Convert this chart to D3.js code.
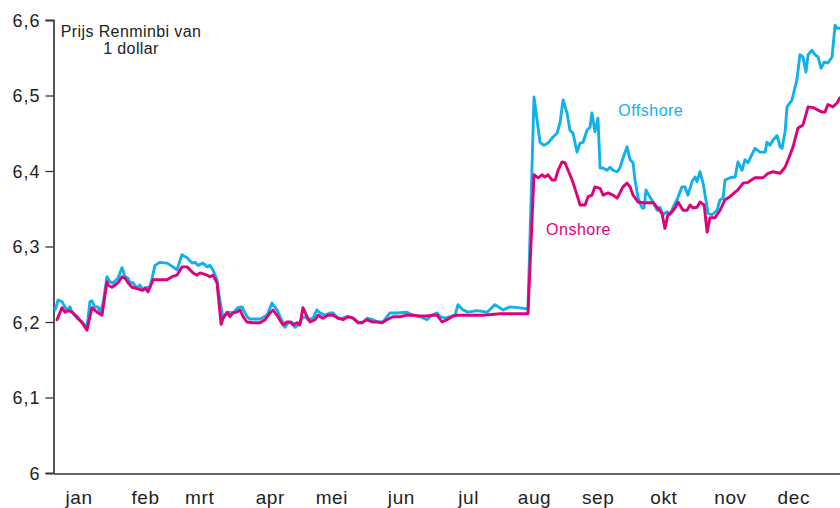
<!DOCTYPE html>
<html><head><meta charset="utf-8">
<script src="https://cdn.jsdelivr.net/npm/d3@7/dist/d3.min.js"></script>
<style>
html,body{margin:0;padding:0;background:#fff;}
svg{display:block;font-family:"Liberation Sans",Arial,sans-serif;}
</style></head>
<body>
<svg id="chart" width="840" height="508"></svg>
<script>
// Month labels (day-of-year where each label is centred)
const monthLabels = ["jan","feb","mrt","apr","mei","jun","jul","aug","sep","okt","nov","dec"];
const monthLabelDays = [11.4,42.3,67.4,100.2,128.8,161.1,192.3,222.9,252.5,283.0,313.9,343.3];
const yTicks = [6, 6.1, 6.2, 6.3, 6.4, 6.5, 6.6];
const yTickLabels = ["6","6,1","6,2","6,3","6,4","6,5","6,6"];

// Offshore rate: [day of year, CNH per USD]
const offshore = [[0.5,6.216],[1.9,6.229],[3.7,6.227],[5.1,6.220],[6.0,6.216],[7.4,6.220],[8.4,6.213],[10.7,6.205],[13.0,6.200],[14.4,6.196],[15.3,6.193],[16.7,6.227],[17.6,6.228],[19.0,6.220],[20.4,6.220],[21.4,6.213],[22.8,6.225],[24.6,6.260],[26.0,6.253],[27.4,6.252],[29.7,6.258],[31.6,6.272],[33.0,6.260],[34.4,6.258],[35.3,6.252],[36.7,6.252],[38.5,6.245],[39.9,6.249],[41.3,6.242],[43.2,6.246],[44.6,6.246],[46.9,6.275],[49.2,6.279],[52.5,6.278],[55.3,6.273],[57.1,6.269],[59.4,6.289],[61.8,6.285],[64.1,6.278],[65.5,6.279],[66.9,6.275],[69.2,6.278],[71.1,6.273],[72.4,6.275],[73.8,6.269],[75.7,6.256],[76.6,6.236],[78.5,6.205],[80.8,6.213],[83.1,6.212],[85.4,6.219],[87.3,6.220],[89.6,6.207],[91.0,6.204],[95.7,6.204],[98.9,6.209],[101.2,6.225],[103.6,6.216],[105.0,6.207],[107.3,6.193],[108.7,6.199],[110.5,6.200],[111.9,6.193],[113.3,6.196],[115.2,6.205],[116.6,6.207],[118.0,6.203],[120.3,6.205],[122.1,6.216],[123.5,6.212],[125.9,6.209],[128.2,6.212],[129.6,6.212],[131.9,6.205],[134.2,6.205],[136.1,6.207],[138.9,6.205],[141.2,6.200],[143.0,6.199],[145.4,6.205],[148.1,6.203],[150.5,6.200],[152.8,6.200],[156.0,6.212],[159.3,6.212],[163.9,6.213],[166.7,6.209],[170.0,6.207],[173.2,6.203],[175.5,6.209],[177.9,6.212],[179.3,6.207],[181.6,6.205],[183.9,6.207],[186.2,6.209],[187.6,6.223],[189.9,6.216],[192.3,6.213],[196.4,6.215],[201.1,6.213],[204.8,6.223],[208.5,6.216],[211.8,6.220],[215.5,6.219],[220.1,6.217],[222.9,6.498],[224.3,6.468],[225.7,6.438],[227.6,6.434],[229.4,6.437],[231.7,6.445],[233.6,6.450],[235.0,6.464],[236.4,6.494],[238.2,6.477],[239.6,6.454],[241.0,6.450],[242.9,6.425],[244.3,6.437],[245.7,6.438],[247.5,6.454],[248.9,6.458],[249.8,6.477],[251.2,6.452],[252.6,6.470],[253.6,6.404],[255.0,6.404],[256.8,6.401],[258.2,6.405],[259.6,6.401],[261.5,6.399],[262.8,6.404],[264.2,6.417],[266.1,6.432],[267.5,6.415],[268.9,6.411],[269.8,6.388],[271.2,6.365],[273.1,6.351],[274.0,6.351],[274.9,6.375],[276.8,6.365],[278.2,6.359],[280.0,6.348],[281.4,6.352],[282.8,6.342],[284.7,6.346],[286.1,6.342],[287.5,6.352],[289.3,6.362],[291.6,6.379],[293.0,6.379],[294.4,6.368],[296.3,6.386],[297.7,6.392],[298.6,6.386],[300.0,6.399],[301.4,6.384],[303.3,6.352],[303.7,6.344],[305.6,6.342],[307.9,6.348],[309.3,6.362],[310.7,6.364],[311.6,6.388],[313.9,6.391],[316.3,6.392],[317.6,6.412],[319.5,6.401],[320.9,6.415],[322.3,6.411],[325.5,6.430],[327.9,6.425],[330.2,6.425],[331.1,6.438],[332.5,6.434],[333.9,6.441],[335.8,6.447],[337.2,6.432],[338.1,6.430],[339.5,6.452],[340.4,6.485],[342.7,6.494],[345.0,6.521],[346.4,6.554],[347.8,6.551],[349.2,6.531],[350.2,6.554],[352.0,6.560],[353.4,6.554],[354.8,6.551],[356.2,6.536],[357.6,6.544],[359.4,6.543],[361.3,6.551],[362.7,6.593],[363.6,6.589],[365,6.589]];

// Onshore rate: [day of year, CNY per USD]
const onshore = [[1.4,6.203],[3.7,6.219],[5.1,6.213],[6.5,6.215],[8.4,6.213],[10.7,6.207],[13.0,6.199],[14.4,6.193],[15.3,6.189],[17.6,6.219],[20.0,6.213],[22.3,6.209],[24.6,6.253],[25.1,6.249],[26.9,6.246],[29.7,6.252],[31.6,6.260],[33.0,6.258],[34.4,6.252],[36.2,6.246],[37.6,6.245],[39.0,6.244],[40.9,6.242],[42.3,6.245],[43.7,6.240],[46.0,6.256],[52.5,6.256],[54.8,6.260],[57.1,6.262],[59.4,6.273],[61.8,6.273],[64.6,6.265],[66.4,6.262],[67.8,6.265],[71.1,6.262],[72.4,6.260],[73.8,6.262],[75.7,6.252],[77.6,6.197],[78.5,6.205],[80.3,6.213],[81.7,6.207],[83.1,6.212],[85.0,6.213],[86.4,6.216],[87.8,6.207],[89.6,6.200],[92.4,6.199],[95.7,6.199],[98.0,6.203],[100.3,6.212],[101.7,6.216],[104.0,6.207],[106.3,6.196],[108.2,6.200],[109.6,6.200],[111.0,6.196],[112.8,6.199],[114.2,6.196],[115.6,6.219],[117.5,6.207],[118.9,6.200],[121.2,6.203],[122.6,6.209],[124.9,6.205],[127.2,6.209],[129.6,6.209],[131.9,6.205],[134.2,6.203],[136.5,6.207],[138.9,6.205],[141.2,6.199],[143.0,6.199],[145.4,6.203],[147.7,6.200],[150.0,6.200],[152.3,6.199],[154.6,6.203],[157.4,6.207],[160.7,6.207],[163.9,6.209],[166.7,6.209],[170.0,6.208],[173.2,6.208],[175.5,6.209],[177.9,6.209],[180.2,6.200],[182.5,6.203],[184.8,6.207],[187.2,6.209],[191.8,6.209],[199.2,6.209],[207.1,6.211],[213.2,6.211],[220.1,6.211],[222.9,6.395],[224.8,6.391],[226.6,6.395],[228.0,6.392],[229.4,6.395],[231.3,6.388],[232.7,6.388],[234.1,6.401],[235.9,6.412],[237.3,6.411],[238.7,6.401],[240.6,6.388],[242.9,6.368],[244.3,6.355],[246.6,6.355],[248.0,6.366],[249.8,6.368],[251.2,6.379],[253.6,6.377],[255.0,6.368],[257.3,6.371],[259.6,6.368],[261.5,6.364],[262.8,6.371],[264.2,6.379],[266.1,6.384],[267.5,6.379],[268.9,6.368],[271.2,6.359],[273.5,6.358],[278.2,6.358],[280.0,6.352],[282.3,6.344],[283.7,6.324],[285.1,6.342],[287.0,6.346],[288.4,6.351],[289.8,6.359],[292.1,6.348],[294.0,6.348],[295.4,6.355],[296.7,6.351],[298.6,6.352],[300.0,6.359],[301.9,6.355],[303.3,6.319],[304.6,6.338],[306.9,6.338],[309.3,6.348],[311.6,6.362],[313.9,6.366],[316.3,6.372],[317.6,6.375],[320.0,6.384],[322.3,6.385],[325.5,6.391],[329.3,6.391],[331.6,6.397],[333.9,6.399],[337.2,6.397],[339.5,6.405],[340.9,6.415],[343.2,6.432],[345.5,6.457],[347.8,6.461],[350.2,6.485],[352.5,6.484],[356.7,6.478],[358.0,6.478],[359.4,6.488],[361.8,6.485],[363.6,6.490],[365,6.497]];

const seriesNames = ["Offshore","Onshore"];
const seriesColors = ["#12b0ea","#e0007b"];

const svg = d3.select("#chart");
const x = d3.scaleLinear().domain([0,365]).range([54,840]);
const y = d3.scaleLinear().domain([6,6.6]).range([473,20]);

// Y axis
const yAxis = d3.axisLeft(y).tickValues(yTicks).tickSize(8).tickPadding(5)
  .tickFormat((d,i)=>yTickLabels[i]);
const gy = svg.append("g").attr("transform","translate(53.5,0)").call(yAxis);
gy.select(".domain").attr("stroke","#555").attr("stroke-width",2);
gy.selectAll(".tick line").attr("stroke","#333").attr("stroke-width",1.3);
gy.selectAll(".tick text").attr("fill","#222").style("font-size","18px")
  .style("letter-spacing","1px").attr("dy","0.36em");

// X axis baseline and month labels
const xAxis = d3.axisBottom(x).tickValues(monthLabelDays).tickSize(0).tickPadding(17)
  .tickFormat((d,i)=>monthLabels[i]);
const gx = svg.append("g").attr("transform","translate(0,473.5)").call(xAxis);
gx.select(".domain").attr("stroke","#333").attr("stroke-width",1.6);
gx.selectAll(".tick text").attr("fill","#222").style("font-size","19px")
  .style("letter-spacing","0.6px").attr("dy","0.71em");

// Lines
const line = d3.line().x(d=>x(d[0])).y(d=>y(d[1])).curve(d3.curveLinear);
[offshore, onshore].forEach((s,i)=>{
  svg.append("path").datum(s).attr("d",line).attr("fill","none")
    .attr("stroke",seriesColors[i]).attr("stroke-width",2.9)
    .attr("stroke-linejoin","round").attr("stroke-linecap","round");
});

// Series labels
svg.append("text").attr("x",x(262)).attr("y",y(6.473)).text(seriesNames[0])
  .attr("fill",seriesColors[0]).style("font-size","16px").style("letter-spacing","0.5px");
svg.append("text").attr("x",x(228.5)).attr("y",y(6.315)).text(seriesNames[1])
  .attr("fill",seriesColors[1]).style("font-size","16px").style("letter-spacing","0.5px");

// Title
const t = svg.append("text").attr("x",131).attr("y",36.5).attr("text-anchor","middle")
  .attr("fill","#222").style("font-size","16px").style("letter-spacing","0.4px");
t.append("tspan").attr("x",131).text("Prijs Renminbi van");
t.append("tspan").attr("x",131).attr("dy",17).text("1 dollar");
</script>
</body></html>
